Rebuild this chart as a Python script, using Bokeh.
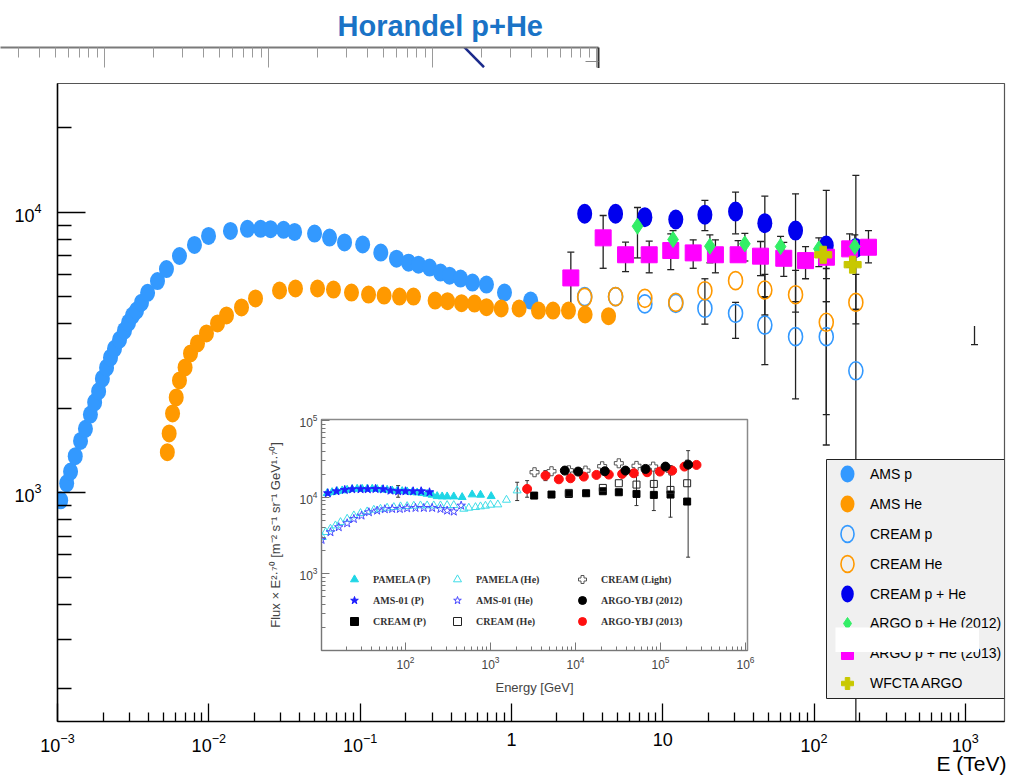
from bokeh.plotting import figure
from bokeh.layouts import column
from bokeh.models import (Range1d, FixedTicker, ColumnDataSource, Whisker, TeeHead, Legend,
                          LegendItem, BoxAnnotation, Label, CustomJSTickFormatter)
from bokeh.embed import file_html
from bokeh.resources import INLINE

SANS = "Liberation Sans"
SERIF = "Liberation Serif"

# ---------------- main panel data (E in TeV, flux x E^2.7) ----------------
ams_p_E = [1.05e-3, 1.15e-3, 1.22e-3, 1.31e-3, 1.42e-3, 1.53e-3, 1.65e-3, 1.76e-3, 1.87e-3, 1.98e-3,
           2.11e-3, 2.24e-3, 2.38e-3, 2.57e-3, 2.77e-3, 2.95e-3, 3.13e-3, 3.33e-3, 3.59e-3, 3.94e-3,
           4.58e-3, 5.25e-3, 6.40e-3, 8.04e-3, 9.96e-3, 1.39e-2, 1.80e-2, 2.20e-2, 2.56e-2, 3.12e-2,
           3.69e-2, 5.0e-2, 6.28e-2, 7.89e-2, 0.104, 0.137, 0.174, 0.209, 0.243, 0.288, 0.340, 0.390,
           0.461, 0.553, 0.684, 0.900, 1.34]
ams_p_F = [940, 1080, 1190, 1350, 1530, 1690, 1900, 2100, 2300, 2550,
           2790, 3030, 3260, 3510, 3780, 4040, 4280, 4460, 4760, 5160,
           5680, 6270, 6980, 7640, 8230, 8570, 8720, 8720, 8700, 8650,
           8500, 8390, 8120, 7800, 7670, 7180, 6830, 6610, 6500, 6350, 6090, 5940,
           5800, 5610, 5520, 5170, 4840]

ams_he_E = [5.32e-3, 5.47e-3, 5.76e-3, 6.09e-3, 6.40e-3, 6.97e-3, 7.57e-3, 8.42e-3, 9.65e-3, 1.142e-2,
            1.309e-2, 1.645e-2, 2.036e-2, 2.934e-2, 3.741e-2, 5.23e-2, 6.67e-2, 8.77e-2, 0.1137, 0.1441,
            0.1822, 0.2254, 0.3131, 0.3782, 0.468, 0.5703, 0.6844, 0.856, 1.124, 1.51,
            1.884, 2.384, 3.07, 4.384]
ams_he_F = [1395, 1627, 1917, 2186, 2514, 2796, 3136, 3405, 3696, 4012,
            4284, 4575, 4925, 5258, 5345, 5345, 5300, 5171, 5087, 5045,
            5004, 5004, 4843, 4815, 4737, 4725, 4584, 4536, 4536, 4462,
            4462, 4462, 4318, 4259]

cream_E = [3.05, 4.88, 7.62, 12.2, 19.0, 30.3, 47.3, 75.5, 120.5, 189.0]
cream_p_F = [5000, 5000, 4710, 4730, 4540, 4360, 3960, 3600, 3600, 2720]
cream_he_F = [4970, 5000, 4930, 4770, 5250, 5700, 5280, 5080, 4050, 4770]
cream_phe_F = [9870, 9870, 9600, 9420, 9790, 10060, 9140, 8600, 7610, 7460]

# CREAM points whose error bars reach beyond the markers
cream_err_E = [19.0, 30.3, 47.3, 75.5, 120.5, 189.0]
cream_p_lo = [3990, 3550, 2860, 2160, 1480, 100]
cream_p_hi = [5790, 4770, 4970, 4800, 4800, 4500]
cream_phe_lo = [8600, 8370, 5000, 4800, 4800, 4500]
cream_phe_hi = [11010, 11790, 11400, 11630, 11950, 13530]
cream_he_err_E = [47.3, 75.5, 120.5, 189.0]
cream_he_lo = [4300, 4400, 1900, 4000]
cream_he_hi = [6000, 6200, 6300, 6000]

argo12_E = [6.81, 11.7, 20.5, 34.9, 60.1, 107.6, 186.0]
argo12_F = [8910, 7990, 7560, 7710, 7540, 7400, 7540]
argo12_lo = [6870, 6880, 6600, 6700, 6500, 6400, 6500]
argo12_hi = [10390, 8600, 8300, 8400, 8200, 8100, 8300]

argo13_E = [2.47, 4.04, 5.68, 8.14, 11.3, 15.9, 22.3, 31.5, 44.3, 63.1, 87.9, 120.8, 172.0, 229.0]
argo13_F = [5830, 8100, 7050, 7050, 7300, 7160, 7050, 7050, 6970, 6850, 6720, 6910, 7400, 7500]
argo13_lo = [4360, 6310, 6140, 6080, 6240, 6310, 6080, 6690, 5940, 5900, 5790, 5800, 6370, 6600]
argo13_hi = [7200, 9730, 7820, 7880, 8370, 7970, 7970, 7920, 7860, 7800, 7540, 7900, 8370, 8600]

wfcta_E = [115.0, 180.0]
wfcta_F = [7050, 6500]

tail_E = [1150.0]
tail_lo = [3370]
tail_hi = [3930]

main_x_labels = {1: "1", 10: "10"}

# ---------------- inset data (E in GeV) ----------------
pamela_p_E = [12.0, 13.7, 15.7, 18.0, 20.6, 23.6, 27.0, 30.9, 35.4, 40.6, 46.4, 53.1, 60.8, 69.7, 79.8,
              91.4, 104.6, 119.8, 137.2, 157.1, 179.8, 206, 236, 270, 309, 370, 464, 608, 763, 1019]
pamela_p_F = [11280, 11620, 11980, 12220, 12470, 12730, 12850, 12850, 12850, 12850, 12730, 12600, 12470,
              12220, 12100, 11980, 11860, 11620, 11510, 11280, 11050, 10730, 10300, 10200, 10200, 10200,
              10000, 10840, 10730, 10300]
ams01_p_E = [12.2, 15.4, 19.3, 23.6, 29.6, 36.0, 44.4, 54.6, 66.6, 82.0, 100, 123.1, 152.9, 191.6]
ams01_p_F = [11280, 11980, 12470, 12730, 12730, 12730, 12850, 12730, 12220, 11980, 11980, 11980, 11980, 11620]
pamela_he_E = [10.5, 11.5, 13.1, 15.0, 17.2, 20.6, 24.7, 29.6, 35.4, 42.4, 50.8, 60.8, 72.9, 87.4, 104.6,
               125.3, 150.1, 179.8, 215, 258, 309, 370, 486, 556, 666, 763, 873, 1000, 1220, 1542, 2061]
pamela_he_F = [3000, 3490, 3860, 4260, 4710, 5210, 5760, 6180, 6500, 6830, 7040, 7260, 7400, 7560, 7630,
               7710, 7780, 7780, 7780, 7780, 7860, 7860, 7040, 7260, 7400, 7560, 7710, 7940, 8020, 9230, 12220]
ams01_he_E = [10.3, 13.1, 16.4, 20.6, 24.7, 30.4, 37.1, 46.4, 57.1, 69.7, 85.8, 104.6, 131.2, 164.4, 206,
              258, 309, 370, 452]
ams01_he_F = [2770, 3490, 4060, 4570, 5210, 5760, 6370, 6690, 6970, 7040, 7040, 7180, 7260, 7260, 7260,
              7040, 6690, 6500, 7780]
cream_light_E = [3297, 5221, 8354, 13120, 20590, 32350, 52210, 81990, 131200, 205900]
cream_light_F = [21240, 21880, 22520, 22320, 25430, 27800, 25700, 25170, 22320, 26700]
argo_ybj12_E = [7492, 10740, 22130, 38730, 66690, 114500, 211500]
argo_ybj12_F = [22320, 21670, 21880, 22320, 23450, 25170, 26700]
argo_ybj13_E = [2698, 4436, 6370, 8737, 12530, 17650, 24670, 35400, 48560, 69690, 98230, 137200, 191500, 265300]
argo_ybj13_F = [12850, 19190, 17170, 17700, 18620, 19590, 19780, 20180, 20600, 21240, 21670, 22320, 25170, 26470]
cream_pp_E = [3264, 5221, 8354, 13340, 20980, 32350, 52210, 83540, 131200, 205900]
cream_pp_F = [10510, 10840, 11050, 11280, 11980, 11620, 11050, 10730, 10840, 8780]
cream_hh_E = [8354, 20980, 32350, 52210, 83540, 131200, 205900]
cream_hh_F = [11390, 13240, 15240, 14640, 14930, 12470, 15240]
inset_err_E = [82.0, 2061, 2698, 4436, 52210, 83540, 131200, 211500]
inset_err_lo = [10000, 9050, 10000, 16500, 7780, 6690, 5480, 1643]
inset_err_hi = [14200, 15700, 16500, 22300, 19200, 24700, 26000, 40700]

# ---------------- Horandel strip ----------------
horandel_E = [146.0, 206.0]
horandel_y = [1.25, 0.06]


def decades(lo, hi):
    return [10.0 ** k for k in range(lo, hi + 1)]


def minors(lo, hi):
    return [m * 10.0 ** k for k in range(lo, hi + 1) for m in range(2, 10)]


def add_errors(fig, E, lo, hi, color="#222222", width=1.3, head=7, upper=True):
    src = ColumnDataSource(dict(E=E, lo=lo, hi=hi))
    w = Whisker(base="E", lower="lo", upper="hi", source=src, dimension="height",
                line_color=color, line_width=width,
                upper_head=TeeHead(size=head, line_color=color, line_width=width) if upper else None,
                lower_head=TeeHead(size=head, line_color=color, line_width=width))
    w.level = "underlay"
    fig.add_layout(w)


def bare(width, height, margin):
    """A small axis-less figure laid over the page at the given margin offsets."""
    f = figure(width=width, height=height, x_range=Range1d(0, 1), y_range=Range1d(0, 1),
               x_axis_location=None, y_axis_location=None,
               output_backend="svg", toolbar_location=None, frame_align=False,
               min_border_left=0, min_border_right=0, min_border_top=0, min_border_bottom=0)
    f.margin = margin
    f.grid.visible = False
    f.outline_line_color = None
    return f


# ================= top strip with the Horandel label =================
strip = figure(width=1015, height=68, x_axis_type="log", x_range=Range1d(0.232, 1028),
               y_range=Range1d(0, 1), x_axis_location="above", y_axis_location="right",
               output_backend="svg", toolbar_location=None, frame_align=False,
               min_border_left=0, min_border_right=417, min_border_top=47, min_border_bottom=0)
strip.grid.visible = False
strip.outline_line_color = None
strip.background_fill_color = "white"
strip.border_fill_color = "white"
strip.title.text = "Horandel p+He"
strip.title.align = "left"
strip.title.offset = 337
strip.title.standoff = 11
strip.title.text_font = SANS
strip.title.text_font_style = "bold"
strip.title.text_font_size = "29px"
strip.title.text_color = "#1a73c6"
sx = strip.xaxis[0]
sx.ticker = FixedTicker(ticks=decades(0, 3), minor_ticks=minors(-1, 2))
sx.formatter = CustomJSTickFormatter(code="return ''")
sx.major_label_standoff = 0
sx.major_label_text_font_size = "2px"
sx.axis_line_color = "#7a7a7a"
sx.axis_line_width = 2
sx.major_tick_in = 20
sx.major_tick_out = 0
sx.minor_tick_in = 10
sx.minor_tick_out = 0
sx.major_tick_line_color = "#9a9a9a"
sx.minor_tick_line_color = "#9a9a9a"
sy = strip.yaxis[0]
sy.ticker = FixedTicker(ticks=[0.33])
sy.formatter = CustomJSTickFormatter(code="return ''")
sy.major_label_text_font_size = "2px"
sy.axis_line_color = "#333333"
sy.axis_line_width = 2
sy.major_tick_in = 13
sy.major_tick_out = 0
sy.major_tick_line_color = "#888888"
strip.line(horandel_E, horandel_y, line_color="#1b2a8c", line_width=2.5)

# ================= main panel =================
main = figure(width=1015, height=710, x_axis_type="log", y_axis_type="log",
              x_range=Range1d(1e-3, 1815), y_range=Range1d(153, 28750),
              output_backend="svg", toolbar_location=None, frame_align=False,
              min_border_left=57, min_border_right=11, min_border_top=15, min_border_bottom=57)
main.grid.visible = False
main.background_fill_color = "white"
main.border_fill_color = "white"
main.outline_line_color = "#555555"
main.outline_line_width = 1.2

xa = main.xaxis[0]
xa.ticker = FixedTicker(ticks=decades(-3, 3), minor_ticks=minors(-3, 2))
xa.major_label_overrides = main_x_labels
ya = main.yaxis[0]
ya.ticker = FixedTicker(ticks=decades(3, 4), minor_ticks=minors(2, 4))
for ax in (xa, ya):
    ax.axis_line_color = "black"
    ax.axis_line_width = 1.5
    ax.major_tick_line_color = "black"
    ax.minor_tick_line_color = "black"
    ax.major_tick_line_width = 1.3
    ax.minor_tick_line_width = 1.3
    ax.major_tick_out = 0
    ax.minor_tick_out = 0
    ax.major_label_text_font = SANS
    ax.major_label_text_font_size = "18px"
    ax.major_label_text_color = "black"
xa.major_tick_in = 18
xa.minor_tick_in = 9
xa.major_label_standoff = 11
ya.major_tick_in = 28
ya.minor_tick_in = 14
ya.major_label_standoff = 16

# error bars (drawn beneath the markers)
add_errors(main, cream_err_E, cream_p_lo, cream_p_hi)
add_errors(main, cream_he_err_E, cream_he_lo, cream_he_hi)
add_errors(main, cream_err_E, cream_phe_lo, cream_phe_hi)
add_errors(main, argo12_E, argo12_lo, argo12_hi)
add_errors(main, argo13_E, argo13_lo, argo13_hi)
add_errors(main, tail_E, tail_lo, tail_hi, upper=False)

ell = dict(width_units="screen", height_units="screen")
r_ams_p = main.ellipse(x=ams_p_E, y=ams_p_F, width=15, height=18, fill_color="#3399ff",
                       line_color=None, **ell)
r_ams_he = main.ellipse(x=ams_he_E, y=ams_he_F, width=15, height=18, fill_color="#ff9900",
                        line_color=None, **ell)
r_cream_p = main.ellipse(x=cream_E, y=cream_p_F, width=14, height=18, fill_color=None,
                         line_color="#3399ff", line_width=1.6, **ell)
r_cream_he = main.ellipse(x=cream_E, y=cream_he_F, width=14, height=18, fill_color=None,
                          line_color="#ff9900", line_width=1.6, **ell)
r_cream_phe = main.ellipse(x=cream_E, y=cream_phe_F, width=15, height=20, fill_color="#0000ee",
                           line_color=None, **ell)
r_argo13 = main.scatter(x=argo13_E, y=argo13_F, marker="square", size=16, fill_color="#ff00ff",
                        line_color="#ff00ff")
r_argo12 = main.scatter(x=argo12_E, y=argo12_F, marker="diamond", size=16, fill_color="#33ee66",
                        line_color="#33ee66")
r_wfcta = main.scatter(x=wfcta_E, y=wfcta_F, marker="plus", size=17, fill_color="#c8c800",
                       line_color="#c8c800")

# legend box and two stacked legends
main.add_layout(BoxAnnotation(left=769, right=947, bottom=23, top=262,
                              left_units="screen", right_units="screen",
                              bottom_units="screen", top_units="screen",
                              fill_color="#f0f0f0", fill_alpha=1.0,
                              line_color="#222222", line_alpha=1.0, line_width=1))
leg_common = dict(padding=6, margin=0, glyph_width=30, label_standoff=8,
                  background_fill_alpha=0, border_line_alpha=0,
                  label_text_font=SANS, label_text_font_size="14px", label_text_color="black")
leg_a = Legend(items=[LegendItem(label="AMS p", renderers=[r_ams_p]),
                      LegendItem(label="AMS He", renderers=[r_ams_he]),
                      LegendItem(label="CREAM p", renderers=[r_cream_p]),
                      LegendItem(label="CREAM He", renderers=[r_cream_he]),
                      LegendItem(label="CREAM p + He", renderers=[r_cream_phe])],
               location=(769, 111), glyph_height=21, label_height=21, spacing=9, **leg_common)
leg_b = Legend(items=[LegendItem(label="ARGO p + He (2012)", renderers=[r_argo12]),
                      LegendItem(label="ARGO p + He (2013)", renderers=[r_argo13]),
                      LegendItem(label="WFCTA ARGO", renderers=[r_wfcta])],
               location=(769, 17), glyph_height=30, label_height=30, spacing=0, **leg_common)
main.add_layout(leg_a)
main.add_layout(leg_b)

# ================= inset panel =================
ins = figure(width=500, height=292, x_axis_type="log", y_axis_type="log",
             x_range=Range1d(10.28, 1.056e6), y_range=Range1d(98.8, 1.04e5),
             output_backend="svg", toolbar_location=None, frame_align=False,
             min_border_left=65, min_border_right=9, min_border_top=14, min_border_bottom=47,
             x_axis_label="Energy [GeV]",
             y_axis_label="Flux × E²·⁷⁰ [m⁻² s⁻¹ sr⁻¹ GeV¹·⁷⁰]")
ins.margin = (-373, 0, 81, 256)
ins.grid.visible = False
ins.background_fill_color = "white"
ins.border_fill_color = "white"
ins.outline_line_color = "#8a8a8a"
ins.outline_line_width = 1.5
ixa = ins.xaxis[0]
iya = ins.yaxis[0]
ixa.ticker = FixedTicker(ticks=decades(2, 6), minor_ticks=minors(1, 5))
iya.ticker = FixedTicker(ticks=decades(3, 5), minor_ticks=minors(2, 4))
for ax in (ixa, iya):
    ax.axis_line_color = "#777777"
    ax.major_tick_line_color = "#777777"
    ax.minor_tick_line_color = "#777777"
    ax.major_tick_out = 0
    ax.minor_tick_out = 0
    ax.major_tick_in = 8
    ax.minor_tick_in = 4
    ax.major_label_text_font = SANS
    ax.major_label_text_font_size = "12px"
    ax.major_label_text_color = "#444444"
    ax.axis_label_text_font = SANS
    ax.axis_label_text_font_style = "normal"
    ax.axis_label_text_font_size = "13px"
    ax.axis_label_text_color = "#444444"
ixa.major_label_standoff = 5
ixa.axis_label_standoff = 8
iya.major_label_standoff = 4
iya.axis_label_standoff = 13

add_errors(ins, inset_err_E, inset_err_lo, inset_err_hi, color="#333333", width=1, head=4)

r_pam_he = ins.scatter(x=pamela_he_E, y=pamela_he_F, marker="triangle", size=8,
                       fill_color=None, line_color="#3fdde8", line_width=1)
r_ams01_he = ins.scatter(x=ams01_he_E, y=ams01_he_F, marker="star", size=9,
                         fill_color=None, line_color="#4a4aff", line_width=1)
r_pam_p = ins.scatter(x=pamela_p_E, y=pamela_p_F, marker="triangle", size=8,
                      fill_color="#1ed6e6", line_color="#1ed6e6")
r_ams01_p = ins.scatter(x=ams01_p_E, y=ams01_p_F, marker="star", size=9,
                        fill_color="#1f1fff", line_color="#1f1fff")
r_cream_pp = ins.scatter(x=cream_pp_E, y=cream_pp_F, marker="square", size=7,
                         fill_color="black", line_color="black")
r_cream_hh = ins.scatter(x=cream_hh_E, y=cream_hh_F, marker="square", size=7,
                         fill_color=None, line_color="#222222", line_width=1)
r_cream_light = ins.scatter(x=cream_light_E, y=cream_light_F, marker="plus", size=9,
                            fill_color="white", line_color="#555555", line_width=1)
r_ybj13 = ins.scatter(x=argo_ybj13_E, y=argo_ybj13_F, marker="circle", size=9,
                      fill_color="#ff1010", line_color="#ff1010")
r_ybj12 = ins.scatter(x=argo_ybj12_E, y=argo_ybj12_F, marker="circle", size=9,
                      fill_color="black", line_color="black")

ins_leg = dict(padding=0, margin=0, spacing=1, glyph_width=20, glyph_height=20, label_height=20,
               label_standoff=9, background_fill_alpha=0, border_line_alpha=0,
               label_text_font=SERIF, label_text_font_style="bold",
               label_text_font_size="10px", label_text_color="#333333")
ins.add_layout(Legend(items=[LegendItem(label="PAMELA (P)", renderers=[r_pam_p]),
                             LegendItem(label="AMS-01 (P)", renderers=[r_ams01_p]),
                             LegendItem(label="CREAM (P)", renderers=[r_cream_pp])],
                      location=(23, 19), **ins_leg))
ins.add_layout(Legend(items=[LegendItem(label="PAMELA (He)", renderers=[r_pam_he]),
                             LegendItem(label="AMS-01 (He)", renderers=[r_ams01_he]),
                             LegendItem(label="CREAM (He)", renderers=[r_cream_hh])],
                      location=(126, 19), **ins_leg))
ins.add_layout(Legend(items=[LegendItem(label="CREAM (Light)", renderers=[r_cream_light]),
                             LegendItem(label="ARGO-YBJ (2012)", renderers=[r_ybj12]),
                             LegendItem(label="ARGO-YBJ (2013)", renderers=[r_ybj13])],
                      location=(251, 19), **ins_leg))

# ================= energy-axis caption at the lower right =================
cap = bare(82, 40, (-40, 0, 0, 933))
cap.background_fill_alpha = 0
cap.border_fill_alpha = 0
cap.add_layout(Label(x=3, y=4, x_units="screen", y_units="screen", text="E (TeV)",
                     text_font=SANS, text_font_size="21px", text_color="black",
                     text_baseline="bottom"))

# ================= white patch lying across the two ARGO legend rows =================
patch = bare(144, 25, (-151, 0, 126, 835))
patch.background_fill_color = "white"
patch.border_fill_color = "white"

page = column(strip, main, ins, cap, patch, spacing=0)
open("out.html", "w").write(file_html(page, INLINE))
